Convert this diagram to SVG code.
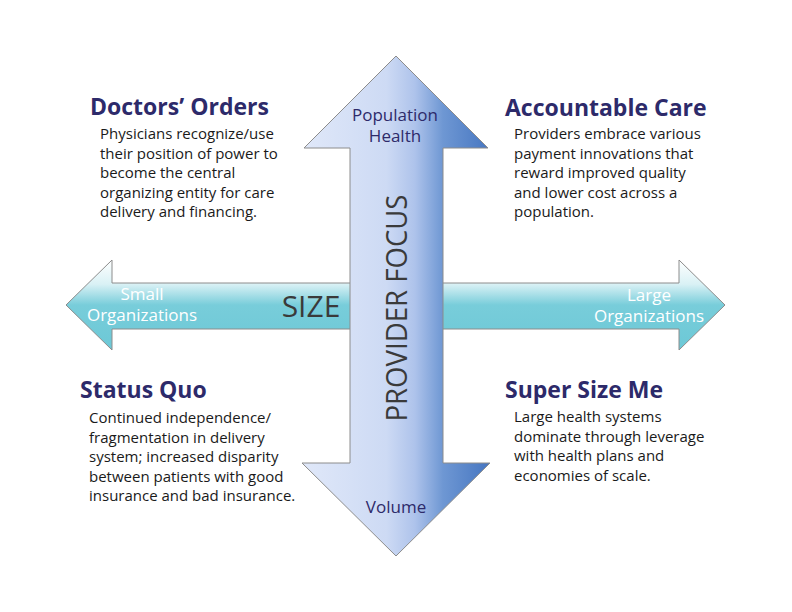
<svg xmlns="http://www.w3.org/2000/svg" width="792" height="612" viewBox="0 0 792 612">
<defs>
<linearGradient id="gH" gradientUnits="userSpaceOnUse" x1="0" y1="260" x2="0" y2="350">
<stop offset="0" stop-color="#ffffff"/>
<stop offset="0.27" stop-color="#d9f1f5"/>
<stop offset="0.5" stop-color="#78cdda"/>
<stop offset="1" stop-color="#6cc8d6"/>
</linearGradient>
<linearGradient id="gV" gradientUnits="userSpaceOnUse" x1="302" y1="0" x2="490" y2="0">
<stop offset="0" stop-color="#e0e8f9"/>
<stop offset="0.45" stop-color="#cddaf4"/>
<stop offset="0.6" stop-color="#aec3eb"/>
<stop offset="0.75" stop-color="#6e97d3"/>
<stop offset="1" stop-color="#4676c1"/>
</linearGradient>
<style>
.arrow{stroke:#8c8c8c;stroke-width:1}
.head{font-family:"Open Sans","Liberation Sans",sans-serif;font-weight:bold;font-size:23px;fill:#2d2a6a}
.body{font-family:"Open Sans","Liberation Sans",sans-serif;font-size:15px;fill:#1a1a1a}
.lbl{font-family:"Open Sans","Liberation Sans",sans-serif;font-size:17px;fill:#2d2a6a;text-anchor:middle}
.wht{font-family:"Open Sans","Liberation Sans",sans-serif;font-size:17px;fill:#ffffff;text-anchor:middle}
.big{font-family:"Open Sans","Liberation Sans",sans-serif;font-size:30px;fill:#3a3a3a;text-anchor:middle}
</style>
</defs>
<rect width="792" height="612" fill="#ffffff"/>
<g id="connectors">
<g id="size-axis">
<polygon class="arrow" fill="url(#gH)" points="66,305 112,260 112,283 679,283 679,260 725,305 679,350 679,329 112,329 112,350"/>
<text class="wht" x="142" y="300">Small</text>
<text class="wht" x="142" y="321">Organizations</text>
<text class="wht" x="649" y="301">Large</text>
<text class="wht" x="649" y="322">Organizations</text>
<text class="big" x="311" y="317">SIZE</text>
</g>
<g id="focus-axis">
<polygon class="arrow" fill="url(#gV)" points="396,56 488,148 443,148 443,463 490,463 396,556 302,463 350,463 350,148 304,148"/>
<text class="lbl" x="395" y="121">Population</text>
<text class="lbl" x="395" y="142">Health</text>
<text class="lbl" x="396" y="513">Volume</text>
<text class="big" transform="translate(407,308) rotate(-90)" textLength="227" lengthAdjust="spacingAndGlyphs">PROVIDER FOCUS</text>
</g>
</g>
<g id="doctors-orders">
<text class="head" x="90" y="115">Doctors’ Orders</text>
<text class="body" x="100" y="139">Physicians recognize/use</text>
<text class="body" x="100" y="158.5">their position of power to</text>
<text class="body" x="100" y="178">become the central</text>
<text class="body" x="100" y="197.5">organizing entity for care</text>
<text class="body" x="100" y="217">delivery and financing.</text>
</g>
<g id="accountable-care">
<text class="head" x="505" y="116">Accountable Care</text>
<text class="body" x="514" y="139">Providers embrace various</text>
<text class="body" x="514" y="158.5">payment innovations that</text>
<text class="body" x="514" y="178">reward improved quality</text>
<text class="body" x="514" y="197.5">and lower cost across a</text>
<text class="body" x="514" y="217">population.</text>
</g>
<g id="status-quo">
<text class="head" x="80" y="398">Status Quo</text>
<text class="body" x="89" y="423">Continued independence/</text>
<text class="body" x="89" y="442.5">fragmentation in delivery</text>
<text class="body" x="89" y="462">system; increased disparity</text>
<text class="body" x="89" y="481.5">between patients with good</text>
<text class="body" x="89" y="501">insurance and bad insurance.</text>
</g>
<g id="super-size-me">
<text class="head" x="505" y="398">Super Size Me</text>
<text class="body" x="514" y="422">Large health systems</text>
<text class="body" x="514" y="441.5">dominate through leverage</text>
<text class="body" x="514" y="461">with health plans and</text>
<text class="body" x="514" y="480.5">economies of scale.</text>
</g>
</svg>
